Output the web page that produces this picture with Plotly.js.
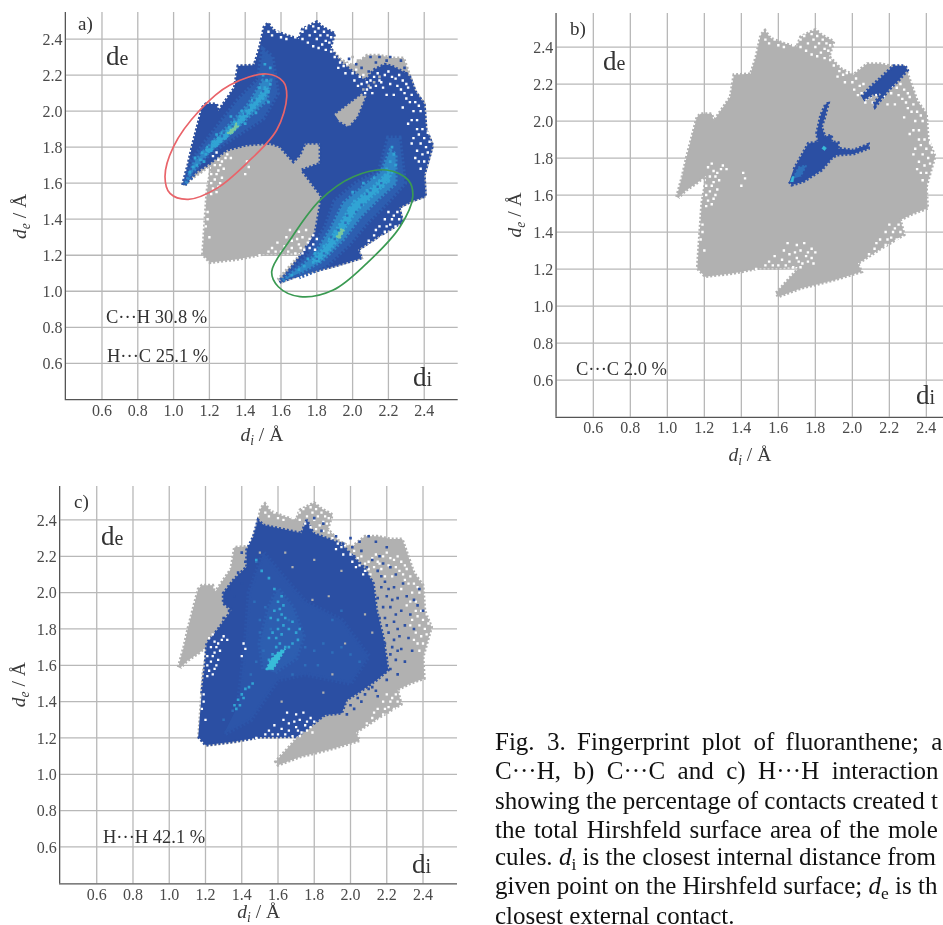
<!DOCTYPE html>
<html><head><meta charset="utf-8">
<script src="https://cdn.plot.ly/plotly-3.0.1.min.js"></script>
<style>html,body{margin:0;padding:0;background:#fff;overflow:hidden}#g{width:943px;height:925px}
#g svg.main-svg{filter:blur(0.45px)}
#g .gridlayer path,#g .crisp{shape-rendering:geometricPrecision !important}</style>
</head><body><div id="g"></div>
<script>
const tickVals=[0.6,0.8,1.0,1.2,1.4,1.6,1.8,2.0,2.2,2.4];
const tickText=['0.6','0.8','1.0','1.2','1.4','1.6','1.8','2.0','2.2','2.4'];

// all contacts (grey) outline: [di, de]
const hull=[[1.05,1.59],[1.08,1.70],[1.105,1.81],[1.135,1.92],[1.16,2.02],[1.18,2.04],[1.24,2.04],[1.25,2.0],[1.29,2.06],[1.34,2.13],[1.36,2.25],[1.45,2.255],[1.48,2.35],[1.505,2.465],[1.528,2.49],[1.555,2.45],[1.63,2.42],[1.70,2.40],[1.72,2.455],[1.80,2.495],[1.835,2.465],[1.90,2.43],[1.875,2.35],[1.935,2.285],[2.005,2.25],[2.08,2.31],[2.15,2.31],[2.22,2.295],[2.285,2.295],[2.32,2.20],[2.35,2.11],[2.40,2.04],[2.41,1.90],[2.447,1.81],[2.43,1.75],[2.40,1.645],[2.407,1.528],[2.33,1.50],[2.26,1.465],[2.28,1.385],[2.17,1.32],[2.03,1.23],[2.05,1.185],[1.90,1.14],[1.72,1.095],[1.60,1.05],[1.587,1.07],[1.65,1.14],[1.717,1.213],[1.60,1.205],[1.50,1.205],[1.357,1.177],[1.204,1.159],[1.162,1.204],[1.175,1.40],[1.186,1.555],[1.213,1.708],[1.16,1.665],[1.10,1.625],[1.06,1.585]];

// panel a: C-H / H-C
const blueA=[[1.05,1.59],[1.08,1.70],[1.105,1.81],[1.135,1.92],[1.16,2.02],[1.18,2.04],[1.24,2.04],[1.25,2.0],[1.29,2.06],[1.34,2.13],[1.36,2.25],[1.45,2.255],[1.48,2.35],[1.505,2.465],[1.528,2.49],[1.555,2.45],[1.63,2.42],[1.70,2.40],[1.72,2.455],[1.80,2.495],[1.835,2.465],[1.90,2.43],[1.875,2.35],[1.935,2.27],[2.0,2.22],[2.07,2.17],[2.12,2.23],[2.18,2.26],[2.22,2.25],[2.28,2.22],[2.32,2.19],[2.35,2.11],[2.40,2.04],[2.41,1.90],[2.447,1.81],[2.43,1.75],[2.40,1.645],[2.407,1.528],[2.33,1.50],[2.26,1.465],[2.28,1.385],[2.17,1.32],[2.03,1.23],[2.05,1.185],[1.90,1.14],[1.72,1.095],[1.594,1.05],[1.706,1.192],[1.79,1.321],[1.827,1.525],[1.715,1.673],[1.818,1.71],[1.818,1.821],[1.734,1.821],[1.706,1.756],[1.669,1.719],[1.594,1.802],[1.539,1.821],[1.408,1.812],[1.296,1.784],[1.203,1.71],[1.129,1.664],[1.064,1.593]];
const greyPatchA=[[1.902,1.978],[1.97,2.03],[2.05,2.089],[2.069,2.08],[2.023,1.969],[1.976,1.917],[1.92,1.95]];
const midA1=[[1.06,1.59],[1.10,1.72],[1.18,1.83],[1.27,1.94],[1.36,2.06],[1.47,2.17],[1.50,2.34],[1.55,2.30],[1.58,2.10],[1.50,1.96],[1.38,1.88],[1.25,1.80],[1.15,1.72],[1.09,1.62]];
const lightA1=[[1.07,1.60],[1.12,1.72],[1.22,1.83],[1.32,1.93],[1.42,2.04],[1.50,2.17],[1.54,2.17],[1.52,2.06],[1.42,1.97],[1.32,1.88],[1.20,1.78],[1.11,1.67]];
const cyanA1=[[1.18,1.78],[1.24,1.84],[1.30,1.89],[1.38,1.97],[1.46,2.06],[1.52,2.13],[1.53,2.11],[1.47,2.04],[1.39,1.95],[1.31,1.87],[1.25,1.82],[1.19,1.77]];
const greenA1=[[1.30,1.875],[1.35,1.93],[1.36,1.915],[1.32,1.87]];
const midA2=[[1.60,1.06],[1.75,1.20],[1.85,1.36],[1.90,1.50],[2.02,1.60],[2.15,1.67],[2.20,1.85],[2.26,1.85],[2.29,1.60],[2.20,1.50],[2.08,1.38],[1.98,1.26],[1.85,1.14],[1.70,1.08]];
const lightA2=[[1.61,1.06],[1.78,1.19],[1.88,1.35],[1.95,1.49],[2.07,1.59],[2.16,1.66],[2.21,1.78],[2.24,1.76],[2.24,1.60],[2.14,1.51],[2.04,1.41],[1.95,1.29],[1.83,1.17],[1.70,1.10]];
const cyanA2=[[1.78,1.17],[1.86,1.26],[1.93,1.37],[2.00,1.48],[2.12,1.58],[2.20,1.66],[2.21,1.63],[2.13,1.55],[2.02,1.45],[1.95,1.34],[1.88,1.24],[1.80,1.16]];
const greenA2=[[1.91,1.30],[1.94,1.35],[1.95,1.335],[1.925,1.29]];
const speckA=[[1.09,1.66],[1.11,1.69],[1.13,1.70],[1.12,1.74],[1.15,1.73],[1.16,1.77],[1.18,1.76],[1.19,1.80],[1.21,1.78],[1.22,1.83],[1.24,1.81],[1.25,1.85],[1.26,1.83],[1.27,1.88],[1.29,1.85],[1.31,1.91],[1.33,1.89],[1.34,1.94],[1.36,1.92],[1.37,1.97],[1.39,1.95],[1.38,2.00],[1.41,1.99],[1.43,2.03],[1.45,2.02],[1.44,2.06],[1.47,2.06],[1.49,2.10],[1.50,2.07],[1.48,2.13],[1.51,2.13],[1.53,2.11],[1.52,2.17],[1.54,2.15],[1.50,2.20],[1.53,2.05],[1.46,1.99],[1.40,1.93],[1.32,1.97],[1.24,1.87],[1.17,1.72],[1.51,2.26],[1.54,2.24],[1.66,1.09],[1.70,1.12],[1.73,1.14],[1.75,1.18],[1.78,1.16],[1.79,1.21],[1.82,1.20],[1.84,1.25],[1.86,1.23],[1.87,1.29],[1.89,1.27],[1.90,1.33],[1.92,1.31],[1.93,1.37],[1.95,1.35],[1.96,1.41],[1.98,1.39],[1.98,1.46],[2.00,1.44],[2.01,1.50],[2.03,1.48],[2.05,1.53],[2.07,1.50],[2.08,1.56],[2.10,1.53],[2.12,1.58],[2.14,1.55],[2.15,1.61],[2.17,1.58],[2.18,1.64],[2.20,1.61],[2.19,1.68],[2.22,1.66],[2.21,1.72],[2.23,1.76],[2.22,1.80],[2.24,1.70],[2.06,1.60],[2.12,1.63],[2.00,1.55]];
const darkOnA=[[1.20,1.80],[1.28,1.88],[1.35,1.955],[1.42,2.02],[1.45,2.06],[1.27,1.86],[1.33,1.915],[1.40,1.985],[1.50,2.11],[1.80,1.18],[1.88,1.30],[1.97,1.42],[2.08,1.54],[2.16,1.60],[1.90,1.29],[1.96,1.38],[2.02,1.44],[2.10,1.56],[1.84,1.21],[1.92,1.34],[2.05,1.48],[2.14,1.58]];
const blueEdgeA=[[1.98,2.29],[2.02,2.26],[2.10,2.30],[2.13,2.27],[2.15,2.30],[2.19,2.28],[2.21,2.30],[2.27,2.28],[2.29,2.24],[2.30,2.21],[2.05,2.24],[2.09,2.22]];
const greySpeckA=[[2.00,2.30],[2.03,2.28],[2.06,2.29],[2.08,2.27],[2.23,2.28],[2.26,2.27],[2.25,2.25],[2.28,2.25],[2.06,2.12],[2.09,2.14],[2.12,2.16],[2.15,2.19]];
const redRing=[[0.952,1.636],[0.999,1.802],[1.147,2.006],[1.315,2.145],[1.52,2.206],[1.613,2.163],[1.632,2.08],[1.576,1.895],[1.408,1.71],[1.241,1.571],[1.082,1.51],[0.98,1.543],[0.952,1.636]];
const greenRing=[[1.548,1.109],[1.65,1.284],[1.818,1.506],[2.004,1.636],[2.19,1.673],[2.311,1.617],[2.336,1.525],[2.265,1.358],[2.079,1.155],[1.892,1.007],[1.706,0.97],[1.585,1.025],[1.548,1.109]];

// panel b: C-C
const blueB1=[[1.659,1.672],[1.672,1.654],[1.735,1.672],[1.834,1.735],[1.888,1.798],[1.915,1.816],[2.005,1.822],[2.087,1.852],[2.087,1.874],[2.005,1.843],[1.924,1.852],[1.924,1.883],[1.888,1.888],[1.888,1.924],[1.852,1.915],[1.834,1.969],[1.852,2.023],[1.87,2.095],[1.856,2.092],[1.829,2.032],[1.807,1.933],[1.816,1.888],[1.762,1.879],[1.726,1.816],[1.681,1.735]];
const blueB2=[[2.051,2.131],[2.096,2.182],[2.15,2.23],[2.213,2.285],[2.222,2.297],[2.285,2.297],[2.297,2.276],[2.249,2.22],[2.195,2.168],[2.123,2.078],[2.117,2.092],[2.159,2.15],[2.114,2.146],[2.06,2.114]];
const cyanB1=[[1.665,1.67],[1.675,1.70],[1.685,1.70],[1.68,1.67]];
const cyanB2=[[1.835,1.85],[1.845,1.865],[1.86,1.855],[1.85,1.84]];
const midB=[[1.68,1.69],[1.71,1.75],[1.75,1.76],[1.72,1.70]];

// panel c: H-H
const blueC=[[1.16,1.207],[1.201,1.161],[1.354,1.18],[1.50,1.205],[1.703,1.207],[1.859,1.327],[1.951,1.336],[1.979,1.409],[2.06,1.46],[2.144,1.519],[2.208,1.574],[2.18,1.758],[2.144,1.905],[2.126,2.051],[2.07,2.143],[1.942,2.272],[1.795,2.327],[1.758,2.4],[1.73,2.327],[1.648,2.345],[1.52,2.372],[1.49,2.40],[1.464,2.308],[1.427,2.235],[1.427,2.143],[1.354,2.07],[1.298,1.996],[1.298,1.941],[1.344,1.905],[1.28,1.813],[1.207,1.721],[1.197,1.593],[1.179,1.446]];
const midC=[[1.38,1.38],[1.42,1.72],[1.44,2.0],[1.52,2.22],[1.62,2.10],[1.75,1.95],[1.95,1.85],[2.10,1.65],[2.0,1.50],[1.75,1.55],[1.60,1.52],[1.45,1.30],[1.30,1.22]];
const lightC=[[1.52,1.58],[1.50,1.72],[1.55,1.92],[1.60,2.02],[1.68,1.92],[1.74,1.76],[1.70,1.64],[1.58,1.56]];
const cyanC1=[[1.535,1.575],[1.56,1.63],[1.60,1.67],[1.64,1.69],[1.61,1.64],[1.57,1.575]];
const speckC=[[1.54,1.58],[1.56,1.60],[1.55,1.63],[1.58,1.63],[1.57,1.66],[1.60,1.66],[1.59,1.70],[1.62,1.68],[1.64,1.70],[1.66,1.70],[1.68,1.72],[1.61,1.72],[1.59,1.75],[1.62,1.77],[1.60,1.80],[1.63,1.82],[1.60,1.85],[1.62,1.88],[1.61,1.91],[1.63,1.93],[1.60,1.95],[1.64,1.86],[1.57,1.78],[1.55,1.75],[1.66,1.80],[1.70,1.78],[1.72,1.80],[1.68,1.84],[1.71,1.74],[1.58,1.90],[1.56,1.86],[1.62,1.98],[1.58,2.02],[1.55,2.08],[1.51,2.12],[1.48,2.18],[1.36,1.38],[1.38,1.41],[1.40,1.44],[1.42,1.47],[1.44,1.48],[1.46,1.50],[1.37,1.36],[1.39,1.38],[1.41,1.42]];
const softSpeckC=[[1.50,1.85],[1.53,1.92],[1.56,1.80],[1.66,1.85],[1.75,1.70],[1.80,1.68],[1.85,1.72],[1.90,1.67],[1.95,1.70],[2.00,1.66],[2.05,1.62],[1.48,1.62],[1.52,1.68],[1.45,1.55],[1.35,1.35],[1.30,1.30],[1.48,2.17],[1.90,1.85],[1.95,1.90],[1.75,1.60],[1.82,1.60],[1.68,1.55],[1.50,1.78],[1.47,1.95]];
const greyDotsC=[[1.50,2.22],[1.64,2.22],[1.68,2.14],[1.80,2.18],[1.95,2.12],[1.88,1.98],[1.79,1.96],[1.97,1.72],[1.90,1.55],[1.85,1.45],[1.62,1.40],[2.08,1.88],[2.12,1.78]];
const blueSpeckC=[[2.16,2.20],[2.22,2.14],[2.25,2.10],[2.19,2.06],[2.24,2.03],[2.29,2.05],[2.20,1.98],[2.26,1.97],[2.31,1.98],[2.35,1.96],[2.38,2.02],[2.22,1.92],[2.28,1.90],[2.33,1.88],[2.37,1.93],[2.40,1.90],[2.19,1.86],[2.24,1.84],[2.30,1.82],[2.35,1.80],[2.21,1.78],[2.27,1.76],[2.32,1.75],[2.23,1.70],[2.28,1.69],[2.34,1.68],[2.20,1.64],[2.25,1.63],[2.30,1.62],[2.22,1.58],[2.26,1.55],[2.20,1.52],[2.12,1.48],[2.08,1.44],[2.04,1.42],[2.00,1.38],[2.15,1.43],[1.92,2.31],[1.96,2.27],[2.00,2.30],[2.05,2.28],[2.10,2.31],[2.06,2.23],[2.14,2.28],[2.20,2.25],[2.12,2.18],[2.18,2.16],[1.85,2.38],[1.80,2.41],[1.76,2.36],[2.15,2.12],[2.17,2.03],[2.15,1.97],[2.18,1.92],[2.16,1.86],[2.20,1.82],[2.19,1.72],[2.22,1.66],[2.17,2.09],[2.21,2.02],[2.23,1.96],[2.25,1.88],[2.26,1.80],[2.24,1.74],[2.26,1.68],[2.18,1.60],[2.19,1.56],[2.14,1.46],[2.10,1.47],[2.06,1.40],[2.02,1.36],[1.98,1.33],[1.40,2.05],[1.38,2.11],[1.42,2.17],[1.40,2.22],[1.36,1.98],[1.33,2.02],[1.32,1.96],[1.33,1.90],[1.30,1.86],[1.26,1.78],[1.84,2.34],[1.78,2.34],[1.98,2.22],[2.02,2.20],[2.09,2.14],[2.01,2.25]];

// sparse pixels shared by all panels
const whiteSpeck=[[1.72,2.44],[1.74,2.46],[1.76,2.42],[1.78,2.47],[1.79,2.44],[1.81,2.46],[1.82,2.42],[1.80,2.40],[1.84,2.44],[1.86,2.42],[1.85,2.39],[1.83,2.37],[1.87,2.38],[1.88,2.41],[1.81,2.35],[1.85,2.34],[1.88,2.33],[1.90,2.36],[1.75,2.38],[1.72,2.40],[1.78,2.36],[1.68,2.41],[1.63,2.40],[1.58,2.44],[1.60,2.41],[1.55,2.42],[1.53,2.44],[1.90,2.30],[1.93,2.27],[1.95,2.25],[1.97,2.26],[2.00,2.21],[2.02,2.23],[2.04,2.19],[2.06,2.20],[2.08,2.16],[2.10,2.17],[2.05,2.15],[2.12,2.19],[2.14,2.21],[2.16,2.16],[2.10,2.13],[2.08,2.12],[2.13,2.14],[2.15,2.17],[2.18,2.20],[2.20,2.22],[2.22,2.19],[2.24,2.18],[2.26,2.20],[2.28,2.17],[2.30,2.15],[2.27,2.12],[2.31,2.13],[2.33,2.09],[2.35,2.05],[2.37,2.03],[2.30,2.07],[2.38,2.00],[2.36,1.95],[2.39,1.90],[2.37,1.87],[2.40,1.85],[2.42,1.88],[2.38,1.82],[2.41,1.80],[2.43,1.83],[2.36,1.78],[2.39,1.76],[2.42,1.77],[2.37,1.72],[2.34,1.85],[2.33,1.95],[2.20,1.44],[2.23,1.42],[2.26,1.40],[2.18,1.40],[2.21,1.37],[2.24,1.36],[2.15,1.36],[2.18,1.33],[2.12,1.31],[2.09,1.28],[2.16,1.30],[1.22,1.75],[1.25,1.73],[1.23,1.70],[1.27,1.72],[1.30,1.76],[1.32,1.74],[1.25,1.67],[1.21,1.65],[1.23,1.62],[1.26,1.60],[1.22,1.57],[1.24,1.55],[1.21,1.60],[1.28,1.68],[1.41,1.72],[1.42,1.69],[1.40,1.65],[1.19,1.44],[1.19,1.40],[1.18,1.36],[1.20,1.30],[1.63,1.30],[1.66,1.28],[1.70,1.33],[1.72,1.30],[1.75,1.27],[1.78,1.31],[1.76,1.24],[1.73,1.23],[1.70,1.26],[1.66,1.24],[1.62,1.25],[1.58,1.27],[1.55,1.24],[1.60,1.22],[1.68,1.21],[1.72,1.21],[1.78,1.26],[1.80,1.29],[1.74,1.34],[1.65,1.34],[1.48,1.20],[1.92,2.24],[1.96,2.21],[2.01,2.17],[2.03,2.14],[2.07,2.10],[2.11,2.10],[2.17,2.13],[2.19,2.09],[2.21,2.15],[2.25,2.14],[2.23,2.09],[2.29,2.10],[2.32,2.05],[2.28,2.02],[2.34,2.00],[2.31,1.93],[2.36,1.90],[2.33,1.82],[2.35,1.74],[2.40,1.72],[2.38,1.68],[1.24,1.77],[1.29,1.74],[1.26,1.70],[1.24,1.65],[1.27,1.63],[1.25,1.58],[1.21,1.54],[1.69,1.29],[1.76,1.29],[1.79,1.23],[1.71,1.24],[1.64,1.22],[1.57,1.22],[1.53,1.22],[2.22,1.40],[2.25,1.44],[2.19,1.36],[2.13,1.34]];

const greyC='#b1b1b1', baseBlue='#2b4fa3', midBlue='#2c55a9', softBlue='#2d5eb0', lightBlue='#2e6fba', ridgeBlue='#2f86c6', brightBlue='#31a4d4', cyan='#38bcd9', greenTone='#79c8a0';

function poly(pts,color,ax,edge){return {type:'scatter',mode:'lines',x:pts.map(p=>p[0]),y:pts.map(p=>p[1]),fill:'toself',fillcolor:color,line:{color:color,width:edge||0.5,dash:edge?'2px,2px':'solid'},xaxis:'x'+ax,yaxis:'y'+ax,hoverinfo:'skip',showlegend:false};}
function dots(pts,color,size,ax){return {type:'scatter',mode:'markers',x:pts.map(p=>p[0]),y:pts.map(p=>p[1]),marker:{symbol:'square',color:color,size:size,line:{width:0}},xaxis:'x'+ax,yaxis:'y'+ax,hoverinfo:'skip',showlegend:false};}
function ring(pts,color,ax){return {type:'scatter',mode:'lines',x:pts.map(p=>p[0]),y:pts.map(p=>p[1]),line:{color:color,width:1.7,shape:'spline',smoothing:1},xaxis:'x'+ax,yaxis:'y'+ax,hoverinfo:'skip',showlegend:false};}

const data=[
 // a
 poly(hull,greyC,'',3),poly(blueA,baseBlue,'',3),poly(greyPatchA,greyC,'',2.5),
 poly(midA1,softBlue,'',5),poly(midA2,softBlue,'',5),poly(lightA1,ridgeBlue,'',4),poly(lightA2,ridgeBlue,'',4),
 dots(speckA,brightBlue,2.7,''),poly(cyanA1,brightBlue,'',3),poly(cyanA2,brightBlue,'',4),poly(greenA1,greenTone,'',2),poly(greenA2,greenTone,'',2),
 dots(darkOnA,lightBlue,2.4,''),dots(greySpeckA,greyC,2.6,''),dots(whiteSpeck,'#ffffff',2.4,''),dots(blueEdgeA,baseBlue,2.6,''),
 ring(redRing,'#e9646a',''),ring(greenRing,'#3a9a52',''),
 // b
 poly(hull,greyC,'2',3),dots(whiteSpeck,'#ffffff',2.4,'2'),poly(blueB1,baseBlue,'2',3),poly(blueB2,baseBlue,'2',3.5),poly(midB,lightBlue,'2',2),
 poly(cyanB1,cyan,'2'),poly(cyanB2,cyan,'2'),
 // c
 poly(hull,greyC,'3',3),poly(blueC,baseBlue,'3',3),poly(midC,midBlue,'3',5),poly(lightC,softBlue,'3',5),
 dots(softSpeckC,lightBlue,2.5,'3'),dots(speckC,brightBlue,2.6,'3'),poly(cyanC1,cyan,'3',2),
 dots(greyDotsC,greyC,2.2,'3'),dots(whiteSpeck,'#ffffff',2.3,'3'),dots(blueSpeckC,baseBlue,2.6,'3')
];

const W=943,H=925,serif='"Liberation Serif",serif',hair='\u200a',thin='\u2009';
function xax(l,r,range,anchor,sd){return {domain:[l/W,r/W],range:range,anchor:anchor,tickmode:'array',tickvals:tickVals,ticktext:tickText,ticks:'',ticklabelstandoff:-4,
  showgrid:true,gridcolor:'#b8b8b8',gridwidth:1.3,zeroline:false,showline:true,linecolor:'#555555',linewidth:1.3,
  tickfont:{family:serif,size:16,color:'#4a4a4a'},title:{text:'<i>d<sub>i</sub></i> / Å',font:{family:serif,size:19.5,color:'#3a3a3a'},standoff:sd},automargin:false};}
function yax(t,b,range,anchor,sd,showTitle){return {domain:[1-b/H,1-t/H],range:range,anchor:anchor,tickmode:'array',tickvals:tickVals,ticktext:tickText,ticks:'',ticklabelstandoff:-1,
  showgrid:true,gridcolor:'#b8b8b8',gridwidth:1.3,zeroline:false,showline:true,linecolor:'#555555',linewidth:1.3,
  tickfont:{family:serif,size:16,color:'#4a4a4a'},title:{text:showTitle?'<i>d<sub>e</sub></i> / Å':'',font:{family:serif,size:19.5,color:'#3a3a3a'},standoff:sd},automargin:false};}

function note(x,y,text,size,color){return {xref:'paper',yref:'paper',x:x/W,y:1-y/H,xanchor:'left',yanchor:'middle',text:text,showarrow:false,align:'left',borderpad:0,font:{family:serif,size:size,color:color||'#333333'}};}
const big=(a,b)=>'<span style="font-size:27px">'+a+'</span><span style="font-size:20px">'+b+'</span>';
const panelNotes=[
 [77,24,'a)',19],[105,56,big('d','e'),27],[105,317,'C···H 30.8 %',18.5],[106,356,'H···C 25.1 %',18.5],[412,377,big('d','i'),27],
 [569,29,'b)',19],[602,61,big('d','e'),27],[575,369,'C···C 2.0 %',18.5],[915,395,big('d','i'),27],
 [73,502,'c)',19],[100,536,big('d','e'),27],[102,837,'H···H 42.1 %',18.5],[411,864,big('d','i'),27]];
const captionLines=[
 [741,'Fig.  3. '+thin+'Fingerprint  plot  of '+thin+'fluoranthene;  a'],
 [771,'C···H,  b)  C···C  and  c)  H···H  interaction'],
 [800,'showing the percentage of contacts created t'],
 [829,('the total Hirshfeld surface area of the mole').split(' ').join(' '+hair)],
 [858,'cules. <i>d</i><sub>i</sub> is the closest internal distance from'],
 [887,'given point on the Hirshfeld surface; <i>d</i><sub>e</sub> is th'],
 [915,'closest external contact.']];
const ylabelA={xref:'paper',yref:'paper',x:21/W,y:1-217/H,xanchor:'center',yanchor:'middle',textangle:-90,text:'<i>d<sub>e</sub></i> / Å',showarrow:false,borderpad:0,font:{family:serif,size:19.5,color:'#3a3a3a'}};

const layout={width:W,height:H,margin:{l:0,r:0,t:0,b:0,pad:0},paper_bgcolor:'#fff',plot_bgcolor:'#fff',showlegend:false,
 xaxis:xax(66,457.7,[0.399,2.587],'y',9),yaxis:yax(12,399,[0.402,2.55],'x',8,false),
 xaxis2:xax(556.7,943,[0.402,2.49],'y2',12),yaxis2:yax(13,416.7,[0.402,2.584],'x2',6,true),
 xaxis3:xax(60.3,457,[0.399,2.5875],'y3',11),yaxis3:yax(486,883.3,[0.4,2.587],'x3',6,true),
 annotations:panelNotes.map(n=>note(n[0],n[1],n[2],n[3])).concat(captionLines.map(l=>note(494,l[0],l[1],25,'#111111'))).concat([ylabelA])};
Plotly.newPlot('g',data,layout,{staticPlot:true,displayModeBar:false,responsive:false});
</script></body></html>
